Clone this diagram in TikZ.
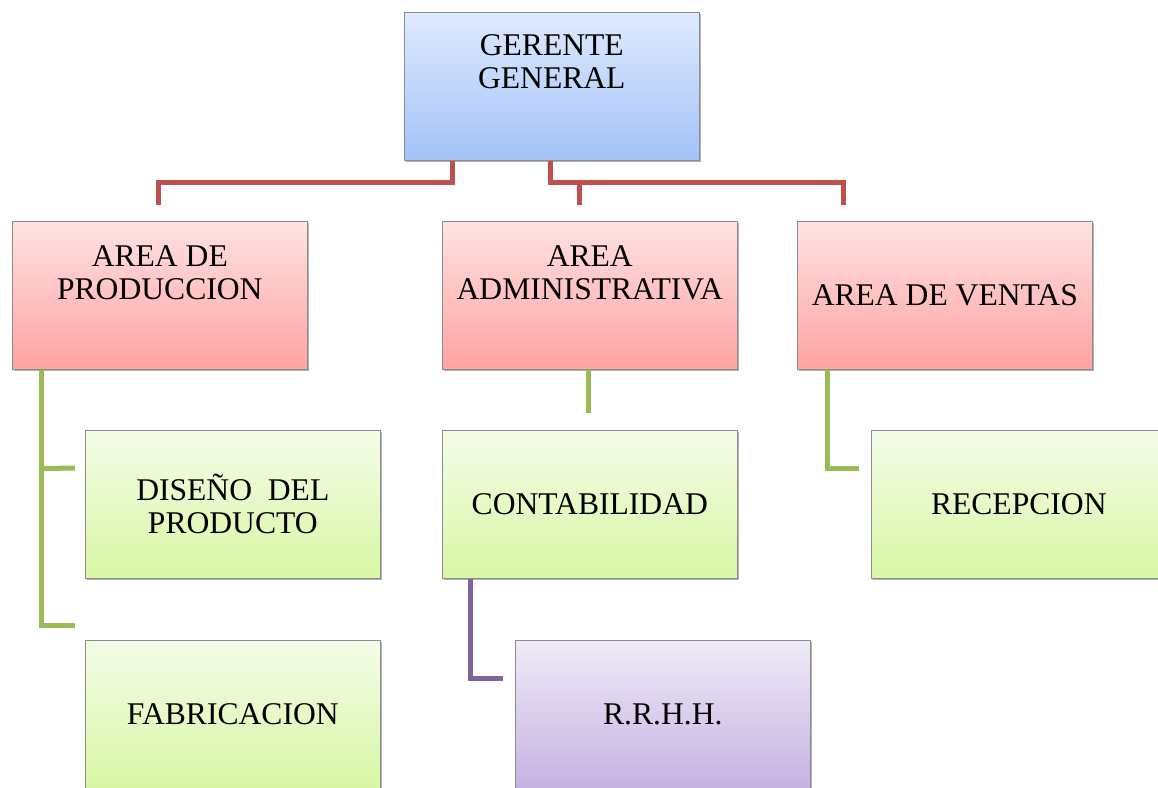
\documentclass[tikz,border=0pt]{standalone}
\usepackage{fontspec}
\setmainfont{Liberation Serif}
\usetikzlibrary{shadows,calc}
\definecolor{redc}{HTML}{C0504D}
\definecolor{greenc}{HTML}{9BBB59}
\definecolor{purplec}{HTML}{8064A2}
\definecolor{blueT}{HTML}{DFEAFD}
\definecolor{blueB}{HTML}{A3C2F8}
\definecolor{redT}{HTML}{FFE2E2}
\definecolor{redB}{HTML}{FFA2A2}
\definecolor{greenT}{HTML}{F4FCE9}
\definecolor{greenB}{HTML}{D8F7A4}
\definecolor{purpleT}{HTML}{EFEAF7}
\definecolor{purpleB}{HTML}{C6B2E2}
\begin{document}
\begin{tikzpicture}[x=1pt,y=-1pt,
  box/.style={draw=black!45, line width=0.6pt, minimum width=295pt, minimum height=148pt,
    inner sep=0pt, anchor=north west,
    drop shadow={shadow xshift=1.5pt, shadow yshift=-2pt, opacity=0.3, fill=black},
    font=\fontsize{31.6}{33}\selectfont, align=center},
  txt/.style={font=\fontsize{31.6}{33}\selectfont, align=center, inner sep=0pt},
  bluebox/.style={box, top color=blueT, bottom color=blueB},
  redbox/.style={box, top color=redT, bottom color=redB},
  greenbox/.style={box, top color=greenT, bottom color=greenB},
  purplebox/.style={box, top color=purpleT, bottom color=purpleB},
  rline/.style={draw=redc, line width=5pt},
  gline/.style={draw=greenc, line width=5pt},
  pline/.style={draw=purplec, line width=5pt},
]
\useasboundingbox (0,0) rectangle (1158,787);
\fill[white] (0,0) rectangle (1158,787);

% boxes
\node[bluebox] (gg) at (404,12) {};
\node[txt] (ggt) at ($(gg.center)+(0,-24.5)$) {GERENTE\\GENERAL};

\node[redbox] (ap) at (12,221) {};
\node[txt] (apt) at ($(ap.center)+(0,-22.5)$) {AREA DE\\PRODUCCION};
\node[redbox] (aa) at (442,221) {};
\node[txt] (aat) at ($(aa.center)+(0,-22.5)$) {AREA\\ADMINISTRATIVA};
\node[redbox] (av) at (797,221) {AREA DE VENTAS};

\node[greenbox] (dp) at (85,430) {DISEÑO\ \ DEL\\PRODUCTO};
\node[greenbox] (fab) at (85,640) {FABRICACION};
\node[greenbox] (ct) at (442,430) {CONTABILIDAD};
\node[greenbox] (rec) at (871,430) {RECEPCION};
\node[purplebox] (rh) at (515,640) {R.R.H.H.};

% red connectors
\draw[rline] ([xshift=48pt]gg.south west) -- ++(0,22) -| ($(ap.north west)+(146,-16)$);
\draw[rline] ([xshift=146pt]gg.south west) -- ++(0,22) -| ($(av.north west)+(46,-16)$);
\draw[rline] ($(aa.north west)+(137,-39)$) -- ($(aa.north west)+(137,-16)$);

% green connectors
\draw[gline] ([xshift=29pt]ap.south west) |- ($(fab.north west)+(-10,-15)$);
\draw[gline] ($(ap.south west)+(29,99)$) -- ($(dp.north west)+(-10,38)$);
\draw[gline] ([xshift=146pt]aa.south west) -- ($(ct.north west)+(146,-17)$);
\draw[gline] ([xshift=30pt]av.south west) |- ($(rec.north west)+(-12,38)$);

% purple connector
\draw[pline] ([xshift=28pt]ct.south west) |- ($(rh.north west)+(-12,38)$);
\end{tikzpicture}
\end{document}
